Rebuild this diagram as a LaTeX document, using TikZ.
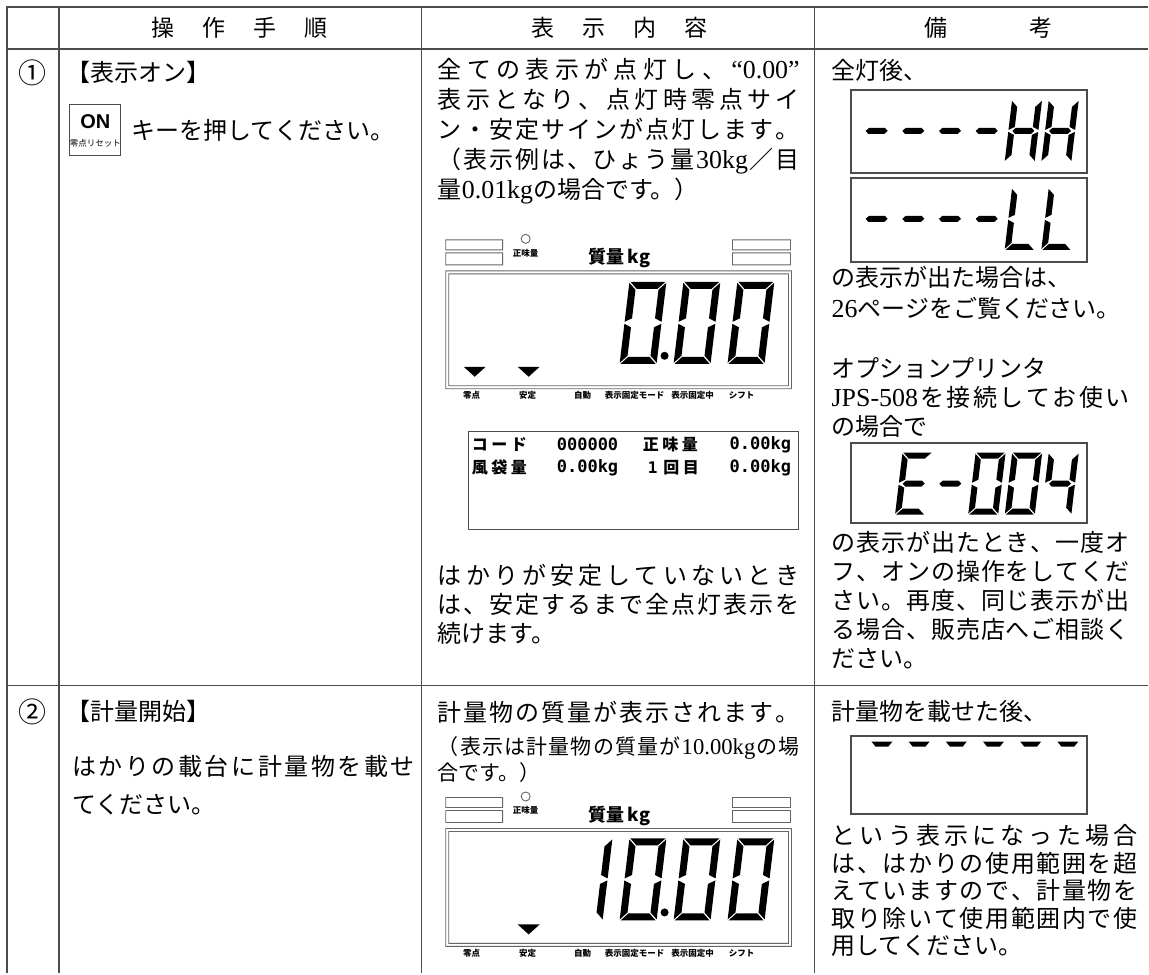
\documentclass[tikz,border=0pt]{standalone}
\usepackage{fontspec}
\usepackage{tikz}
\usetikzlibrary{positioning}

\newfontfamily\jp{Noto Sans CJK JP}
\newfontfamily\jpP{Noto Sans CJK JP}[LetterSpace=22]
\newfontfamily\lat{Liberation Serif}[Scale=1.08]
\newfontfamily\sans{Liberation Sans}
\newfontfamily\mono{DejaVu Sans Mono}

% justified line: every character spread over the given width
\def\spreadrelax{\relax}
\def\spreadfirst#1{{#1}\spreadrest}
\def\spreadrest#1{\def\spreadtmp{#1}\ifx\spreadtmp\spreadrelax\else\hfil{#1}\expandafter\spreadrest\fi}
\newcommand{\jline}[2]{\makebox[#1][s]{\spreadfirst#2\relax}}

% seven segment digit: (x,y) bottom left, width, height, thickness, segments
\newcommand{\segdigit}[5]{%
  \begin{scope}[shift={#1},x=1pt,y=1pt,xslant=0.12]
    \def\segw{#2}\def\segh{#3}\def\segt{#4}\def\segp{1}
    \foreach \s in {#5}{\csname seg\s\endcsname}
  \end{scope}}
\newcommand{\sega}{\fill (\segp,\segh) -- (\segw-\segp,\segh) -- (\segw-\segt-\segp,\segh-\segt) -- (\segt+\segp,\segh-\segt) -- cycle;}
\newcommand{\segd}{\fill (\segp,0) -- (\segw-\segp,0) -- (\segw-\segt-\segp,\segt) -- (\segt+\segp,\segt) -- cycle;}
\newcommand{\segf}{\fill (0,\segh-\segp) -- (\segt,\segh-\segt-\segp) -- (\segt,\segh/2+\segt/2+\segp) -- (0,\segh/2+\segp) -- cycle;}
\newcommand{\sege}{\fill (0,\segp) -- (\segt,\segt+\segp) -- (\segt,\segh/2-\segt/2-\segp) -- (0,\segh/2-\segp) -- cycle;}
\newcommand{\segb}{\fill (\segw,\segh-\segp) -- (\segw-\segt,\segh-\segt-\segp) -- (\segw-\segt,\segh/2+\segt/2+\segp) -- (\segw,\segh/2+\segp) -- cycle;}
\newcommand{\segc}{\fill (\segw,\segp) -- (\segw-\segt,\segt+\segp) -- (\segw-\segt,\segh/2-\segt/2-\segp) -- (\segw,\segh/2-\segp) -- cycle;}
\newcommand{\segg}{\fill (\segt/2+\segp,\segh/2) -- (\segt+\segp,\segh/2+\segt/2) -- (\segw-\segt-\segp,\segh/2+\segt/2) -- (\segw-\segt/2-\segp,\segh/2) -- (\segw-\segt-\segp,\segh/2-\segt/2) -- (\segt+\segp,\segh/2-\segt/2) -- cycle;}

% weighing panel: top y, name prefix
\newcommand{\scalepanel}[2]{%
  \draw[panelline] (446,#1) rectangle (503,#1+10) (446,#1+13) rectangle (503,#1+25)
    (733,#1) rectangle (791,#1+10) (733,#1+13) rectangle (791,#1+25)
    (446,#1+31) rectangle (792,#1+149) (449,#1+34) rectangle (789,#1+146)
    (526,#1-1) circle (4.5pt);
  \node[tinytext] (#2net) at (526,#1+13) {正味量};
  \node[kgtext] (#2kg) at (620,#1+18) {質量\,kg};
  \foreach \x/\lab [count=\i] in {472/零点,528/安定,583/自動,635/表示固定モード,693/表示固定中,742/シフト}
    {\node[tinytext] (#2lab\i) at (\x,#1+156) {\lab};}}

\begin{document}
\begin{tikzpicture}[x=1pt,y=-1pt]
\tikzstyle{rule}=[draw=black!70,line width=1.5pt]
\tikzstyle{head}=[inner sep=0pt,font=\jp\fontsize{23}{28}\selectfont]
\tikzstyle{num}=[inner sep=0pt,font=\jp\fontsize{28}{28}\selectfont]
\tikzstyle{body}=[inner sep=0pt,align=left,font=\jp\fontsize{24}{30}\selectfont]
\tikzstyle{lcdbox}=[draw=black!70,line width=2pt,minimum width=236pt,inner sep=0pt]
\tikzstyle{panelline}=[draw=black!60,line width=0.9pt]
\tikzstyle{tinytext}=[inner sep=0pt,font=\jp\bfseries\fontsize{8.5}{9}\selectfont]
\tikzstyle{kgtext}=[inner sep=0pt,font=\jp\bfseries\fontsize{18}{18}\selectfont]
\tikzstyle{prt}=[inner sep=0pt,anchor=west,font=\jpP\bfseries\fontsize{16}{16}\selectfont]
\tikzstyle{prtnum}=[inner sep=0pt,anchor=west,font=\mono\bfseries\fontsize{17}{18}\selectfont]

\fill[white] (0,0) rectangle (1149,974);

\draw[rule] (1149,7) -- (7,7) -- (7,974);
\draw[rule] (7,49) -- (1149,49);
\draw[rule] (7,686) -- (1149,686);
\foreach \x in {59,422,815} {\draw[rule] (\x,7) -- (\x,974);}

\node[head] (hd1) at (240,28) {操\hspace{28pt}作\hspace{28pt}手\hspace{28pt}順};
\node[head] (hd2) at (620,28) {表\hspace{28pt}示\hspace{28pt}内\hspace{28pt}容};
\node[head] (hd3) at (989,28) {備\hspace{82pt}考};

\node[num] (no1) at (33,73) {①};
\node[num] (no2) at (33,712) {②};

% step 1
\node[body,anchor=west] (op1) at (66,72) {【表示オン】};
\node[draw=black!70,line width=1pt,minimum size=51pt,inner sep=0pt] (onkey) at (95.5,130.5) {};
\node[inner sep=0pt,font=\sans\bfseries\fontsize{20}{20}\selectfont] (onlbl) at (95.5,122) {ON};
\node[inner sep=0pt,font=\jp\fontsize{8.5}{9}\selectfont] (onsub) at (95.5,143) {零点リセット};
\node[body,right=10pt of onkey] (op1b) {キーを押してください。};

\node[body,anchor=north west] (ds1) at (438,58) {\jline{362pt}{全ての表示が点灯し、{\lat “0.00”}}\\\jline{362pt}{表示となり、点灯時零点サイ}\\\jline{362pt}{ン・安定サインが点灯します。}\\\jline{362pt}{（表示例は、ひょう量{\lat 30kg}／目}\\量{\lat 0.01kg}の場合です。）};

\scalepanel{240}{pa}
\foreach \x in {620,674,728} {\segdigit{(\x,364)}{37}{82}{7}{a,b,c,d,e,f}}
\fill (665,356) circle (4pt);
\fill (464,367) -- (486,367) -- (475,377) -- cycle;
\fill (518,367) -- (540,367) -- (529,377) -- cycle;

\node[draw=black!70,line width=1pt,minimum width=330pt,minimum height=98pt] (prtbox) at (634,481) {};
\node[prt] (pr1) at (472,445) {コード};
\node[prtnum] (pr2) at (557,445) {000000};
\node[prt] (pr3) at (643,445) {正味量};
\node[prtnum] (pr4) at (730,445) {0.00kg};
\node[prt] (pr5) at (472,468) {風袋量};
\node[prtnum] (pr6) at (557,468) {0.00kg};
\node[prt] (pr7) at (648,468) {{\mono\bfseries 1}\hspace{6pt}回目};
\node[prtnum] (pr8) at (730,468) {0.00kg};

\node[body,anchor=north west,font=\jp\fontsize{24}{29}\selectfont] (ds1b) at (438,564) {\jline{362pt}{はかりが安定していないとき}\\\jline{362pt}{は、安定するまで全点灯表示を}\\続けます。};

\node[body,anchor=west] (rm1) at (832,70) {全灯後、};
\node[lcdbox,minimum height=83pt] (hhbox) at (970,131.5) {};
\foreach \x in {858.5,895.2,931.9,968.6} {\segdigit{(\x,162)}{30}{62}{6}{g}}
\foreach \x in {1005.3,1042} {\segdigit{(\x,162)}{30}{62}{6}{b,c,e,f,g}}
\node[lcdbox,minimum height=84pt] (llbox) at (970,220) {};
\foreach \x in {858.5,895.2,931.9,968.6} {\segdigit{(\x,250)}{30}{62}{6}{g}}
\foreach \x in {1005.3,1042} {\segdigit{(\x,250)}{30}{62}{6}{d,e,f}}
\node[body,anchor=north west,font=\jp\fontsize{24}{31}\selectfont] (rm1b) at (832,266) {の表示が出た場合は、\\{\lat 26}ページをご覧ください。};
\node[body,anchor=north west,font=\jp\fontsize{24}{29}\selectfont] (rm1c) at (832,358) {オプションプリンタ\\\jline{298pt}{{\lat JPS-508}を接続してお使い}\\の場合で};
\node[lcdbox,minimum height=80pt] (errbox) at (970,483) {};
\segdigit{(895.6,515)}{30}{62}{6}{a,d,e,f,g}
\segdigit{(932.2,515)}{30}{62}{6}{g}
\foreach \x in {968.8,1005.4} {\segdigit{(\x,515)}{30}{62}{6}{a,b,c,d,e,f}}
\segdigit{(1042,515)}{30}{62}{6}{b,c,f,g}
\node[body,anchor=north west,font=\jp\fontsize{24}{29}\selectfont] (rm1d) at (832,531) {\jline{298pt}{の表示が出たとき、一度オ}\\\jline{298pt}{フ、オンの操作をしてくだ}\\\jline{298pt}{さい。再度、同じ表示が出}\\\jline{298pt}{る場合、販売店へご相談く}\\ださい。};

% step 2
\node[body,anchor=west] (op2) at (66,712) {【計量開始】};
\node[body,anchor=north west,font=\jp\fontsize{24}{38}\selectfont] (op2b) at (72,756) {\jline{343pt}{はかりの載台に計量物を載せ}\\てください。};

\node[body,anchor=west] (ds2) at (438,713) {\jline{362pt}{計量物の質量が表示されます。}};
\node[body,anchor=north west,font=\jp\fontsize{21}{26}\selectfont] (ds2b) at (438,737) {\jline{362pt}{（表示は計量物の質量が{\lat 10.00kg}の場}\\合です。）};

\scalepanel{798}{pb}
\segdigit{(566,921)}{37}{82}{7}{b,c}
\foreach \x in {620,674,728} {\segdigit{(\x,921)}{37}{82}{7}{a,b,c,d,e,f}}
\fill (665,913) circle (4pt);
\fill (518,925) -- (540,925) -- (529,935) -- cycle;

\node[body,anchor=west] (rm2) at (832,712) {計量物を載せた後、};
\node[lcdbox,minimum height=79pt] (overbox) at (970,775.5) {};
\foreach \i in {0,...,5} {\fill ({872+37.2*\i},742) -- ++(21,0) -- ++(-4,5) -- ++(-13,0) -- cycle;}
\node[body,anchor=north west,font=\jp\fontsize{24}{27.5}\selectfont] (rm2b) at (832,825) {\jline{306pt}{という表示になった場合}\\\jline{306pt}{は、はかりの使用範囲を超}\\\jline{306pt}{えていますので、計量物を}\\\jline{306pt}{取り除いて使用範囲内で使}\\用してください。};
\end{tikzpicture}
\end{document}
